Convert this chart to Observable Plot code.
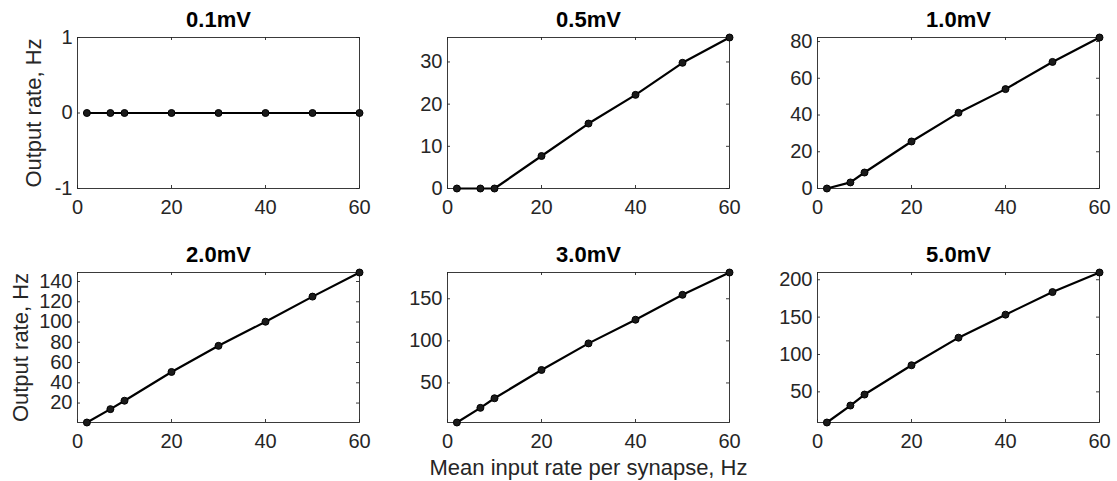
<!DOCTYPE html>
<html>
<head>
<meta charset="utf-8">
<script src="https://cdn.jsdelivr.net/npm/d3@7"></script>
<script src="https://cdn.jsdelivr.net/npm/@observablehq/plot@0.6"></script>
<style>
  html, body { margin: 0; padding: 0; background: #fff; }
  #chart { position: relative; width: 1117px; height: 481px; background: #fff; overflow: hidden; }
  #chart svg { position: absolute; overflow: visible; }
</style>
</head>
<body>
<div id="chart"></div>
<script>
// ---- data ----
const inputRates = [2, 7, 10, 20, 30, 40, 50, 60];
const panelTitles = ["0.1mV", "0.5mV", "1.0mV", "2.0mV", "3.0mV", "5.0mV"];
const out01 = [0, 0, 0, 0, 0, 0, 0, 0];
const out05 = [0, 0, 0, 7.7, 15.4, 22.2, 29.8, 35.8];
const out10 = [0, 3.3, 8.7, 25.6, 41.2, 54.1, 68.9, 82.2];
const out20 = [0.8, 14.0, 22.3, 50.7, 76.5, 100.3, 125.1, 148.9];
const out30 = [3, 20.4, 31.8, 65.4, 97.0, 125.1, 154.7, 181.2];
const out50 = [9, 31.7, 46.4, 85.6, 122.5, 153.3, 183.5, 209.7];
const xTicks = [0, 20, 40, 60];
const yTicks01 = [-1, 0, 1];
const yTicks05 = [0, 10, 20, 30];
const yTicks10 = [0, 20, 40, 60, 80];
const yTicks20 = [20, 40, 60, 80, 100, 120, 140];
const yTicks30 = [50, 100, 150];
const yTicks50 = [50, 100, 150, 200];
const yLabel = "Output rate, Hz";
const xLabel = "Mean input rate per synapse, Hz";

const series = [out01, out05, out10, out20, out30, out50];
const yTickSets = [yTicks01, yTicks05, yTicks10, yTicks20, yTicks30, yTicks50];

// ---- layout ----
const FONT = "'Liberation Sans', Arial, Helvetica, sans-serif";
const AX = "#262626";
const colLeft = [0, 370, 740];
const rowTop = [0, 235];
const rowHeight = [235, 246];
const rowMarginBottom = [47, 59];
const W = 370, ML = 77, MR = 11, MT = 37;
const TICK = 3;

const chart = document.getElementById("chart");

series.forEach((vals, i) => {
  const row = Math.floor(i / 3), col = i % 3;
  const H = rowHeight[row];
  const MB = rowMarginBottom[row];
  const iw = W - ML - MR, ih = H - MT - MB;
  const data = inputRates.map((x, j) => ({x, y: vals[j]}));
  let [lo, hi] = d3.extent(vals);
  if (lo === hi) { lo -= 1; hi += 1; }
  const yt = yTickSets[i];

  const marks = [
    Plot.frame({stroke: AX, strokeWidth: 0.9}),
    Plot.tickX(xTicks, {x: d => d, insetBottom: ih - TICK, stroke: AX, strokeWidth: 0.9}),
    Plot.tickX(xTicks, {x: d => d, insetTop: ih - TICK, stroke: AX, strokeWidth: 0.9}),
    Plot.tickY(yt, {y: d => d, insetRight: iw - TICK, stroke: AX, strokeWidth: 0.9}),
    Plot.tickY(yt, {y: d => d, insetLeft: iw - TICK, stroke: AX, strokeWidth: 0.9}),
    Plot.axisX({ticks: xTicks, tickSize: 0, tickPadding: 11, fontSize: 20, label: null, tickFormat: d => String(d)}),
    Plot.axisY({ticks: yt, tickSize: 0, tickPadding: 5, fontSize: 20, label: null, tickFormat: d => String(d)}),
    Plot.line(data, {x: "x", y: "y", stroke: "#000", strokeWidth: 2.2}),
    Plot.dot(data, {x: "x", y: "y", r: 3.5, fill: "#1a1a1a", stroke: "#000", strokeWidth: 1}),
    Plot.text([panelTitles[i]], {text: d => d, frameAnchor: "top", dy: -11, lineAnchor: "bottom", fontSize: 22, fontWeight: "bold", fill: "#000"})
  ];
  if (col === 0) {
    marks.push(Plot.text([yLabel], {text: d => d, frameAnchor: "left", textAnchor: "middle", rotate: -90, dx: row === 0 ? -44 : -57, lineAnchor: "middle", fontSize: 22, fill: AX}));
  }
  if (i === 4) {
    marks.push(Plot.text([xLabel], {text: d => d, frameAnchor: "bottom", textAnchor: "middle", dy: 37, lineAnchor: "top", fontSize: 22, fill: AX}));
  }

  const svg = Plot.plot({
    width: W,
    height: H,
    marginLeft: ML,
    marginRight: MR,
    marginTop: MT,
    marginBottom: MB,
    style: {fontFamily: FONT, color: AX, background: "transparent", overflow: "visible"},
    x: {domain: [0, 60]},
    y: {domain: [lo, hi]},
    marks
  });
  svg.style.left = colLeft[col] + "px";
  svg.style.top = rowTop[row] + "px";
  chart.appendChild(svg);
});
</script>
</body>
</html>
